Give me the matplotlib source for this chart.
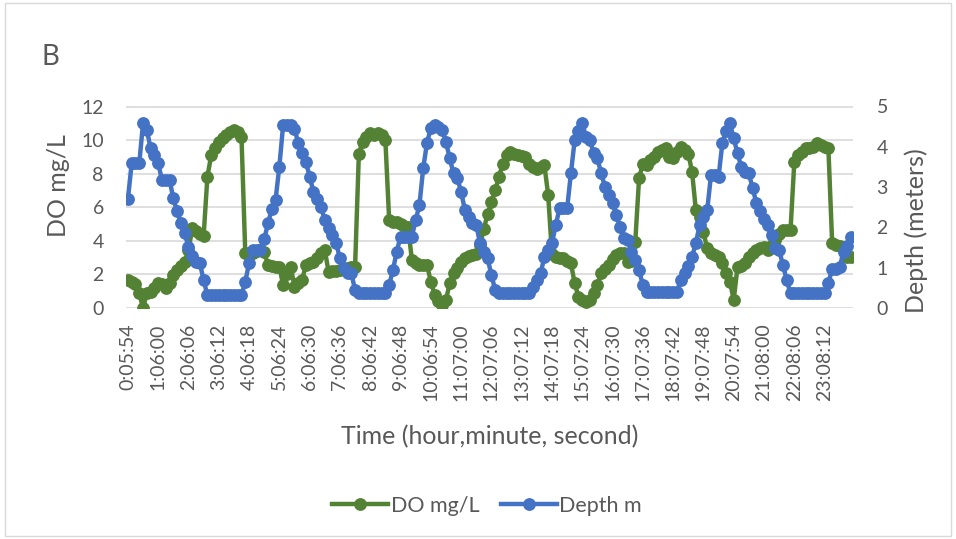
import numpy as np
import matplotlib
matplotlib.use("Agg")
import matplotlib.pyplot as plt
from matplotlib.patches import Rectangle

# ---------------- data ----------------
tick_labels = ["0:05:54", "1:06:00", "2:06:06", "3:06:12", "4:06:18", "5:06:24",
               "6:06:30", "7:06:36", "8:06:42", "9:06:48", "10:06:54", "11:07:00",
               "12:07:06", "13:07:12", "14:07:18", "15:07:24", "16:07:30", "17:07:36",
               "18:07:42", "19:07:48", "20:07:54", "21:08:00", "22:08:06", "23:08:12"]
points_per_label = 8

do_mgL = [
    1.67, 1.55, 1.40, 0.87, 0.00, 0.87, 0.97, 1.20,
    1.47, 1.40, 1.17, 1.50, 1.96, 2.26, 2.50, 2.76,
    3.45, 4.74, 4.60, 4.40, 4.29, 7.82, 9.10, 9.50,
    9.90, 10.10, 10.30, 10.50, 10.60, 10.50, 10.20, 3.26,
    3.26, 3.30, 3.40, 3.45, 3.35, 2.56, 2.50, 2.46,
    2.46, 1.37, 2.00, 2.46, 1.27, 1.50, 1.67, 2.56,
    2.66, 2.76, 3.00, 3.26, 3.45, 2.16, 2.20, 2.22,
    2.26, 2.30, 2.40, 2.46, 2.46, 9.20, 9.90, 10.20,
    10.40, 10.30, 10.40, 10.30, 10.00, 5.24, 5.15, 5.10,
    5.00, 4.90, 4.84, 2.86, 2.70, 2.56, 2.56, 2.56,
    1.57, 0.80, 0.40, 0.18, 0.48, 1.47, 2.07, 2.40,
    2.76, 3.00, 3.10, 3.15, 3.20, 3.75, 4.70, 5.60,
    6.30, 7.00, 7.80, 8.60, 9.10, 9.30, 9.20, 9.10,
    9.05, 9.00, 8.60, 8.40, 8.30, 8.40, 8.50, 6.73,
    3.20, 3.05, 3.00, 2.96, 2.80, 2.66, 1.47, 0.67,
    0.45, 0.38, 0.48, 0.90, 1.37, 2.07, 2.30, 2.56,
    2.90, 3.15, 3.26, 3.26, 2.76, 2.80, 3.95, 7.72,
    8.60, 8.50, 8.80, 9.00, 9.30, 9.40, 9.50, 9.00,
    8.95, 9.30, 9.60, 9.40, 9.20, 8.10, 5.83, 5.43,
    4.50, 3.55, 3.26, 3.15, 3.05, 2.66, 2.07, 1.57,
    0.48, 2.46, 2.50, 2.66, 3.05, 3.30, 3.45, 3.55,
    3.65, 3.45, 3.75, 4.05, 4.40, 4.64, 4.64, 4.64,
    8.70, 9.10, 9.30, 9.50, 9.55, 9.60, 9.80, 9.70,
    9.60, 9.50, 3.85, 3.75, 3.70, 3.65, 3.05, 3.05,
]

depth_m = [
    2.70, 3.59, 3.59, 3.59, 4.58, 4.42, 3.96, 3.80,
    3.59, 3.18, 3.18, 3.18, 2.72, 2.40, 2.10, 1.85,
    1.52, 1.30, 1.15, 1.12, 0.69, 0.32, 0.32, 0.32,
    0.32, 0.32, 0.32, 0.32, 0.32, 0.32, 0.32, 0.65,
    1.11, 1.44, 1.44, 1.44, 1.70, 2.10, 2.45, 2.68,
    3.51, 4.54, 4.54, 4.54, 4.45, 4.09, 3.85, 3.63,
    3.26, 2.89, 2.70, 2.51, 2.18, 1.98, 1.80, 1.61,
    1.23, 1.00, 0.86, 0.86, 0.45, 0.36, 0.36, 0.36,
    0.36, 0.36, 0.36, 0.36, 0.36, 0.57, 0.94, 1.40,
    1.77, 1.77, 1.77, 1.77, 2.18, 2.56, 3.47, 4.10,
    4.46, 4.54, 4.50, 4.42, 4.13, 3.71, 3.34, 3.22,
    2.89, 2.43, 2.25, 2.10, 2.06, 1.61, 1.40, 1.23,
    0.82, 0.45, 0.36, 0.36, 0.36, 0.36, 0.36, 0.36,
    0.36, 0.36, 0.36, 0.53, 0.70, 0.86, 1.27, 1.45,
    1.61, 2.06, 2.47, 2.47, 2.47, 3.34, 4.17, 4.40,
    4.58, 4.25, 4.17, 3.84, 3.71, 3.34, 3.01, 2.80,
    2.60, 2.30, 2.00, 1.73, 1.69, 1.40, 1.20, 0.94,
    0.57, 0.40, 0.40, 0.40, 0.40, 0.40, 0.40, 0.40,
    0.40, 0.40, 0.69, 0.86, 1.05, 1.27, 1.61, 2.06,
    2.25, 2.43, 3.30, 3.30, 3.26, 4.09, 4.40, 4.58,
    4.21, 3.84, 3.50, 3.38, 3.34, 2.97, 2.60, 2.40,
    2.20, 2.06, 1.81, 1.48, 1.44, 1.07, 0.69, 0.36,
    0.36, 0.36, 0.36, 0.36, 0.36, 0.36, 0.36, 0.36,
    0.36, 0.61, 0.98, 0.98, 1.02, 1.40, 1.55, 1.77,
]

# ---------------- styling ----------------
plt.rcParams['font.family'] = ['Lato', 'DejaVu Sans']
TXT = '#595959'
GREEN = '#548235'
BLUE = '#4472C4'
GRID = '#D9D9D9'

W, H = 956, 539
fig = plt.figure(figsize=(W / 100, H / 100), dpi=100)
fig.patch.set_facecolor('white')

left, right, top, bottom = 126, 853, 106.5, 308
ax = fig.add_axes([left / W, 1 - bottom / H, (right - left) / W, (bottom - top) / H])
ax2 = ax.twinx()

x = np.arange(len(do_mgL))
l1, = ax.plot(x, do_mgL, color=GREEN, lw=3.2, marker='o', ms=8.2, label='DO mg/L', zorder=3)
l2, = ax2.plot(np.arange(len(depth_m)), depth_m, color=BLUE, lw=3.2, marker='o', ms=8.2,
               label='Depth m', zorder=3)

ax.set_xlim(-0.5, len(do_mgL) - 0.5)
ax.set_ylim(0, 12)
ax2.set_ylim(0, 5)
ax.set_yticks(np.arange(0, 13, 2))
ax2.set_yticks(np.arange(0, 6, 1))
ax.set_xticks(np.arange(0, len(tick_labels) * points_per_label, points_per_label))
ax.set_xticklabels(tick_labels, rotation=90)

ax.grid(axis='y', color=GRID, lw=1.2)
ax.set_axisbelow(True)
for a in (ax, ax2):
    for s in a.spines.values():
        s.set_visible(False)
ax.tick_params(axis='x', length=0, pad=11, labelsize=14, labelcolor=TXT)
ax.tick_params(axis='y', length=0, pad=16, labelsize=14, labelcolor=TXT)
ax2.tick_params(axis='y', length=0, pad=17, labelsize=14, labelcolor=TXT)

fig.text(58 / W, 1 - 186 / H, 'DO mg/L', rotation=90, ha='center', va='center',
         fontsize=18, color=TXT)
fig.text(916 / W, 1 - 231 / H, 'Depth (meters)', rotation=90, ha='center', va='center',
         fontsize=18, color=TXT)
fig.text(490 / W, 1 - 437 / H, 'Time (hour,minute, second)', ha='center', va='center',
         fontsize=18, color=TXT)
fig.text(42 / W, 1 - 57 / H, 'B', ha='left', va='center', fontsize=20, color=TXT)

fig.legend(handles=[l1, l2], loc='center', bbox_to_anchor=(487 / W, 1 - 506 / H), ncol=2,
           frameon=False, fontsize=15.5, handlelength=2.6, columnspacing=1.0,
           handletextpad=0.1, labelcolor=TXT)

fig.patches.append(Rectangle((5 / W, 3 / H), (W - 10) / W, (H - 6) / H, transform=fig.transFigure,
                             fill=False, edgecolor=GRID, lw=1))

fig.savefig('out.png', dpi=100)
